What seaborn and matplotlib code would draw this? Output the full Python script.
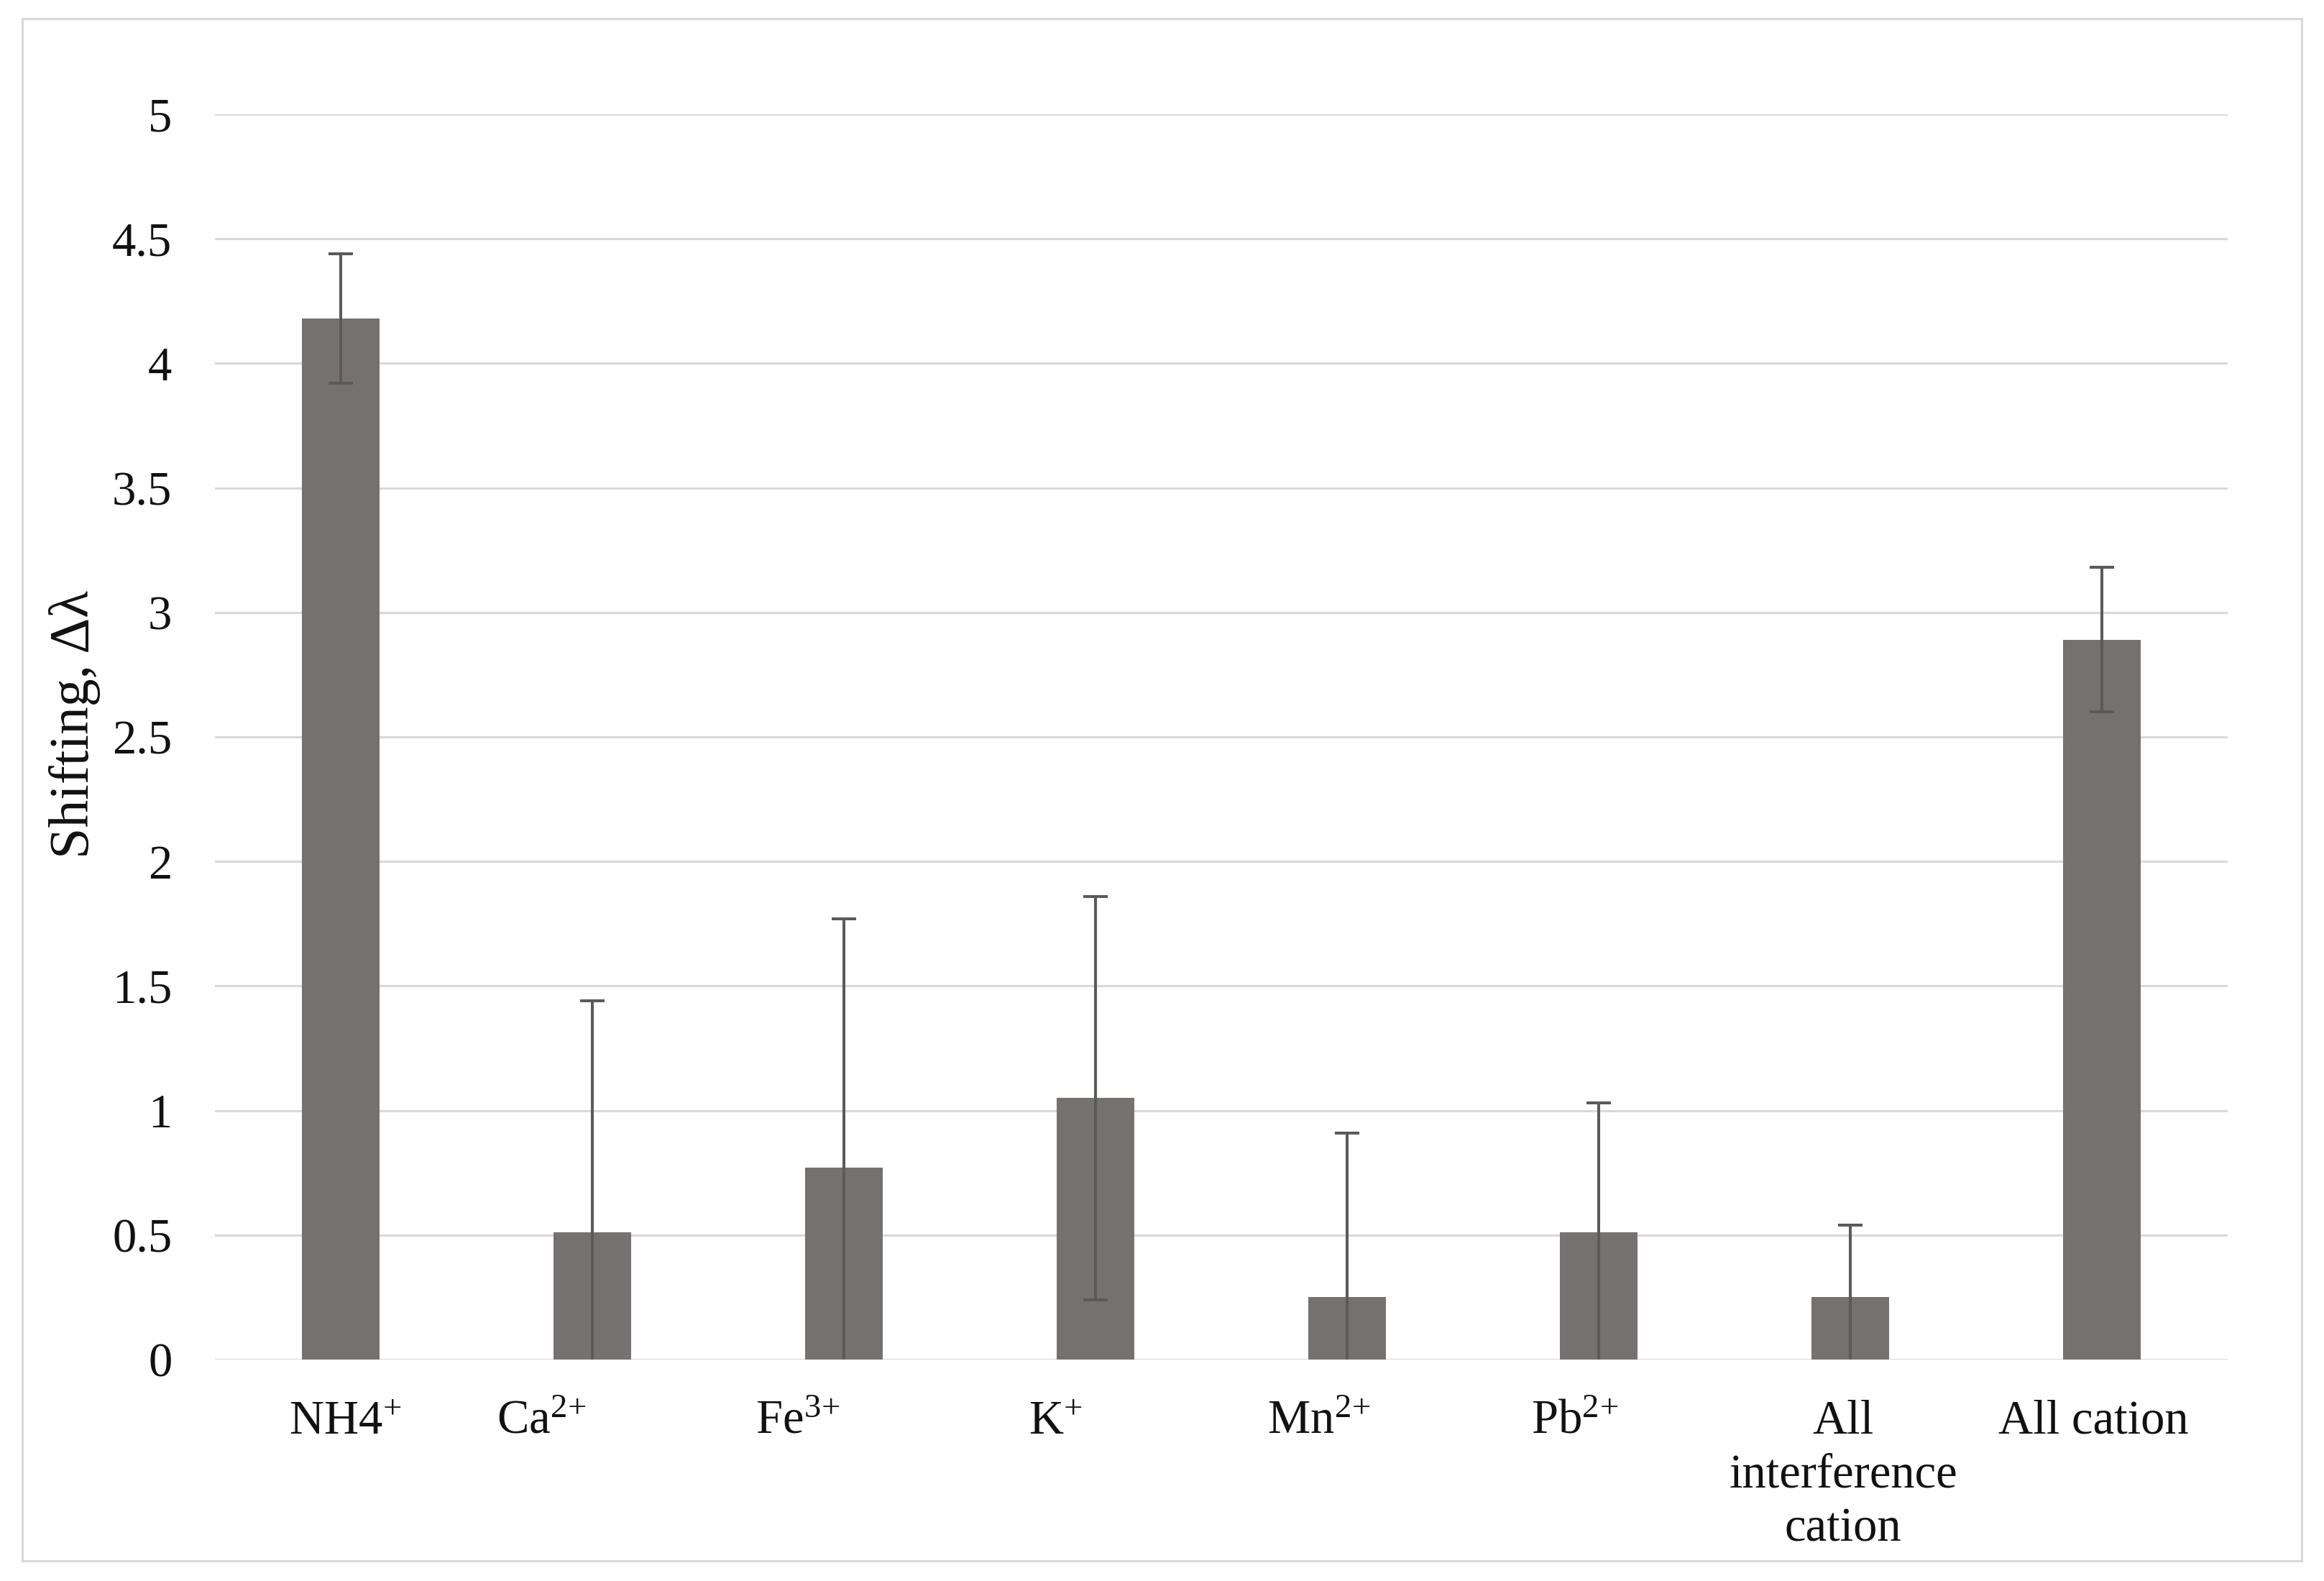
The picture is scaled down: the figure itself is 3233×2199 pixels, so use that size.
import matplotlib
matplotlib.use('Agg')
import matplotlib.pyplot as plt
import matplotlib.transforms as mtransforms
import seaborn as sns
import pandas as pd
from matplotlib.patches import Rectangle

# ---- data ----
categories = ['NH4$^{+}$', 'Ca$^{2\\!+}$', 'Fe$^{3\\!+}$', 'K$^{+}$', 'Mn$^{2\\!+}$',
              'Pb$^{2\\!+}$', 'All\ninterference\ncation', 'All cation']
values = [4.18, 0.51, 0.77, 1.05, 0.25, 0.51, 0.25, 2.89]
errors = [0.26, 0.93, 1.00, 0.81, 0.66, 0.52, 0.29, 0.29]
y_ticks = [0, 0.5, 1, 1.5, 2, 2.5, 3, 3.5, 4, 4.5, 5]
y_tick_labels = ['0', '0.5', '1', '1.5', '2', '2.5', '3', '3.5', '4', '4.5', '5']
y_label = 'Shifting, Δλ'

# horizontal nudges of the category labels (pixels), as placed in the original
label_dx = [6, -70, -64, -56, -39, -33, -10, -12]

sns.set_theme(style='white')
plt.rcParams['font.family'] = ['Liberation Serif', 'DejaVu Serif']
plt.rcParams['mathtext.fontset'] = 'custom'
plt.rcParams['mathtext.rm'] = 'Liberation Serif'
plt.rcParams['mathtext.it'] = 'Liberation Serif:italic'
plt.rcParams['mathtext.bf'] = 'Liberation Serif:bold'

W, H = 3233, 2199
dpi = 100
fig = plt.figure(figsize=(W / dpi, H / dpi), dpi=dpi, facecolor='white')
ax = fig.add_axes([299 / W, 1 - 1891 / H, 2800 / W, (1891 - 159) / H])

df = pd.DataFrame({'cation': categories, 'shift': values})
sns.barplot(data=df, x='cation', y='shift', color='#767171', saturation=1,
            width=0.31, errorbar=None, linewidth=0, ax=ax)
ax.errorbar(x=list(range(len(values))), y=values, yerr=errors, fmt='none',
            ecolor='#5a5a5a', elinewidth=2.9, capsize=12, capthick=2.9, zorder=3)

ax.set_ylim(0, 5)
ax.set_xlim(-0.5, len(categories) - 0.5)
ax.set_yticks(y_ticks)
ax.set_yticklabels(y_tick_labels)
ax.set_axisbelow(True)
ax.yaxis.grid(True, color='#D9D9D9', linewidth=2.2)
ax.xaxis.grid(False)
for s in ax.spines.values():
    s.set_visible(False)
ax.tick_params(axis='y', length=0, pad=43, labelsize=48, labelcolor='#111111')
ax.tick_params(axis='x', length=0, pad=40, labelsize=48, labelcolor='#111111')
for lbl, dx in zip(ax.get_xticklabels(), label_dx):
    lbl.set_linespacing(1.3)
    lbl.set_transform(lbl.get_transform() +
                      mtransforms.ScaledTranslation(dx / dpi, 0, fig.dpi_scale_trans))
ax.set_xlabel('')
ax.set_ylabel(y_label, fontsize=56, color='#111111')
ax.yaxis.set_label_coords(-0.0695, 0.51)
ax.yaxis.label.set_va('center')

fig.patches.append(Rectangle((31 / W, 1 - 2171 / H), (3202 - 31) / W, (2171 - 26) / H,
                             transform=fig.transFigure, fill=False,
                             edgecolor='#D9D9D9', linewidth=2.2))

fig.savefig('out.png', dpi=dpi, facecolor='white')
